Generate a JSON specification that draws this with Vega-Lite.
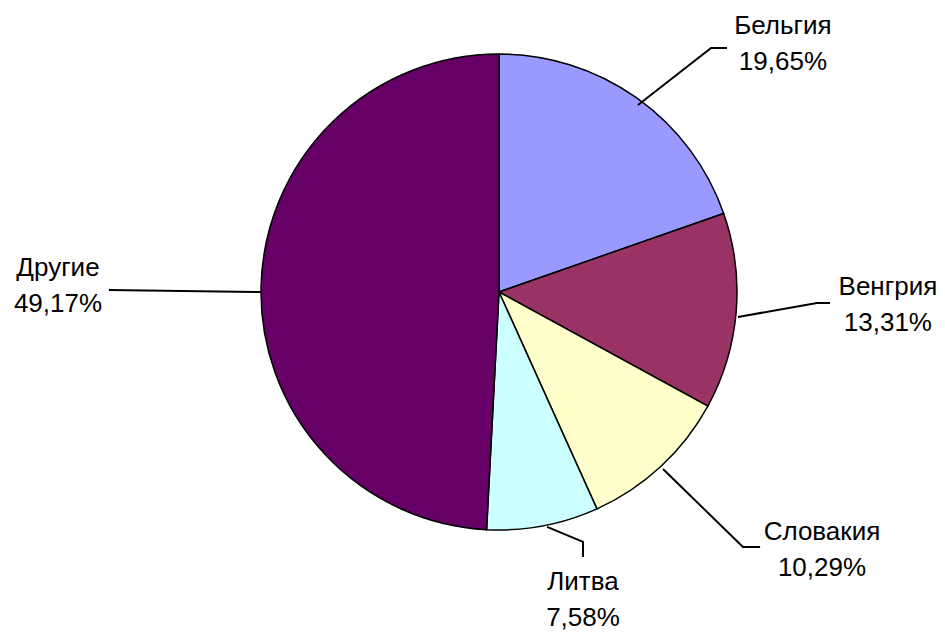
{
  "$schema": "https://vega.github.io/schema/vega-lite/v6.json",
  "width": 945,
  "height": 633,
  "autosize": {"type": "none"},
  "padding": 0,
  "background": "white",
  "config": {"view": {"stroke": null}},
  "datasets": {
    "slices": [
      {"idx": 1, "name": "Бельгия", "share": 19.65, "pct": "19,65%"},
      {"idx": 2, "name": "Венгрия", "share": 13.31, "pct": "13,31%"},
      {"idx": 3, "name": "Словакия", "share": 10.29, "pct": "10,29%"},
      {"idx": 4, "name": "Литва", "share": 7.58, "pct": "7,58%"},
      {"idx": 5, "name": "Другие", "share": 49.17, "pct": "49,17%"}
    ],
    "leaders": [
      {"name": "Бельгия", "k": 1, "u": 58.4, "v": 78.6},
      {"name": "Бельгия", "k": 2, "u": 89.1, "v": 102.5},
      {"name": "Бельгия", "k": 3, "u": 95.8, "v": 102.5},
      {"name": "Венгрия", "k": 1, "u": 100.4, "v": -10.5},
      {"name": "Венгрия", "k": 2, "u": 133.6, "v": -4.6},
      {"name": "Венгрия", "k": 3, "u": 139.1, "v": -4.6},
      {"name": "Словакия", "k": 1, "u": 68.9, "v": -74.4},
      {"name": "Словакия", "k": 2, "u": 102.5, "v": -107.1},
      {"name": "Словакия", "k": 3, "u": 109.7, "v": -107.1},
      {"name": "Литва", "k": 1, "u": 20.2, "v": -98.7},
      {"name": "Литва", "k": 2, "u": 35.3, "v": -105.0},
      {"name": "Литва", "k": 3, "u": 35.3, "v": -111.3},
      {"name": "Другие", "k": 1, "u": -99.6, "v": 0},
      {"name": "Другие", "k": 2, "u": -163.9, "v": 0.8}
    ],
    "labels": [
      {"name": "Бельгия", "pct": "19,65%", "u": 119.3, "v": 104.0},
      {"name": "Венгрия", "pct": "13,31%", "u": 163.4, "v": -5.3},
      {"name": "Словакия", "pct": "10,29%", "u": 135.7, "v": -108.2},
      {"name": "Литва", "pct": "7,58%", "u": 35.3, "v": -129.4},
      {"name": "Другие", "pct": "49,17%", "u": -185.3, "v": 2.5}
    ]
  },
  "layer": [
    {
      "data": {"name": "slices"},
      "mark": {"type": "arc", "radius": 238, "stroke": "black", "strokeWidth": 1.5},
      "encoding": {
        "x": {"datum": 0, "type": "quantitative", "scale": {"domain": [-209.66, 187.39], "zero": false, "nice": false}, "axis": null},
        "y": {"datum": 0, "type": "quantitative", "scale": {"domain": [-143.28, 122.69], "zero": false, "nice": false}, "axis": null},
        "theta": {"field": "share", "type": "quantitative", "stack": true},
        "order": {"field": "idx", "type": "quantitative"},
        "color": {
          "field": "name", "type": "nominal", "legend": null,
          "scale": {"domain": ["Бельгия", "Венгрия", "Словакия", "Литва", "Другие"], "range": ["#9999FF", "#993366", "#FFFFCC", "#CCFFFF", "#660066"]}
        }
      }
    },
    {
      "data": {"name": "leaders"},
      "mark": {"type": "line", "color": "black", "strokeWidth": 2},
      "encoding": {
        "x": {"field": "u", "type": "quantitative", "axis": null},
        "y": {"field": "v", "type": "quantitative", "axis": null},
        "detail": {"field": "name"},
        "order": {"field": "k", "type": "quantitative"}
      }
    },
    {
      "data": {"name": "labels"},
      "mark": {"type": "text", "font": "Liberation Sans", "fontSize": 26, "align": "center", "baseline": "middle", "dy": -18, "color": "black"},
      "encoding": {
        "x": {"field": "u", "type": "quantitative", "axis": null},
        "y": {"field": "v", "type": "quantitative", "axis": null},
        "text": {"field": "name"}
      }
    },
    {
      "data": {"name": "labels"},
      "mark": {"type": "text", "font": "Liberation Sans", "fontSize": 26, "align": "center", "baseline": "middle", "dy": 18, "color": "black"},
      "encoding": {
        "x": {"field": "u", "type": "quantitative", "axis": null},
        "y": {"field": "v", "type": "quantitative", "axis": null},
        "text": {"field": "pct"}
      }
    }
  ]
}
